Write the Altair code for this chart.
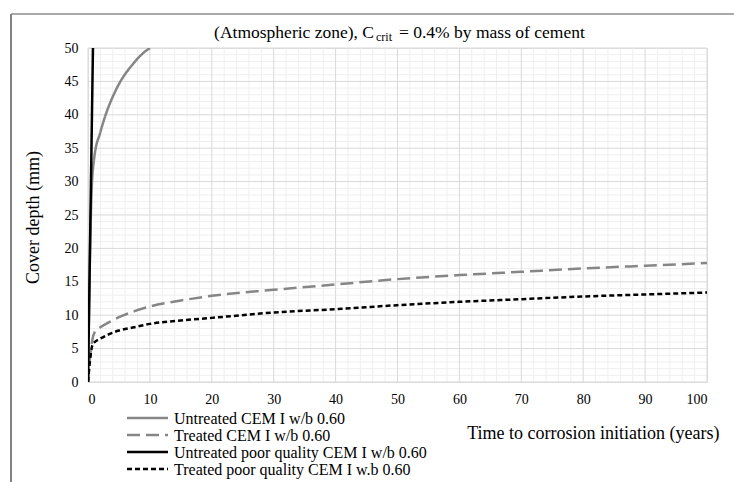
import altair as alt
import pandas as pd

# ---- data ----
series_names = [
    "Untreated CEM I w/b 0.60",
    "Treated CEM I w/b 0.60",
    "Untreated poor quality CEM I w/b 0.60",
    "Treated poor quality CEM I w.b 0.60",
]

untreated_t = [0, 0.3, 0.6, 1.0, 2, 3, 4, 5, 6, 7, 8, 9, 10]
untreated_d = [0, 18, 29, 33.5, 37.4, 40.4, 42.7, 44.6, 46.1, 47.3, 48.4, 49.3, 50]

treated_t = [0, 0.3, 0.7, 1.1, 2, 3.5, 5, 7.5, 10, 15, 20, 30, 40, 50, 60, 70, 80, 90, 100]
treated_d = [0, 3.5, 6.3, 7.5, 8.2, 9.0, 9.7, 10.6, 11.3, 12.2, 12.9, 13.8, 14.6, 15.4, 16.0, 16.5, 17.0, 17.4, 17.8]

poor_untreated_t = [0, 0.8]
poor_untreated_d = [0, 50]

poor_treated_t = [0, 0.3, 0.7, 1.0, 2, 3.5, 5, 7.5, 10, 15, 20, 30, 40, 50, 60, 70, 80, 90, 100]
poor_treated_d = [0, 3, 5.5, 5.9, 6.5, 7.2, 7.7, 8.2, 8.7, 9.2, 9.6, 10.4, 10.9, 11.5, 12.0, 12.4, 12.8, 13.1, 13.4]

x_major = list(range(0, 101, 10))
x_minor = [v for v in range(0, 101, 2) if v % 10 != 0]
y_major = list(range(0, 51, 5))
y_minor = [v for v in range(0, 51) if v % 5 != 0]

title_parts = ["(Atmospheric zone), C", "crit", "= 0.4% by mass of cement"]

# ---- build tables ----
rows = []
for name, ts, ds in zip(series_names,
                        [untreated_t, treated_t, poor_untreated_t, poor_treated_t],
                        [untreated_d, treated_d, poor_untreated_d, poor_treated_d]):
    for t, d in zip(ts, ds):
        rows.append({"t": t, "d": d, "series": name})
df = pd.DataFrame(rows)

colors = ["#868686", "#868686", "#000000", "#000000"]
dashes = [[1, 0], [13, 6], [1, 0], [5, 3]]

FONT = "Liberation Serif"
W, H = 619, 334

xscale = alt.Scale(domain=[0, 100], nice=False, zero=False)
yscale = alt.Scale(domain=[0, 50], nice=False, zero=False)

xaxis = alt.Axis(values=x_major, grid=False, domain=False, ticks=False,
                 labelFont=FONT, labelFontSize=14, labelColor="#000",
                 labelPadding=10,
                 title="Time to corrosion initiation (years)",
                 titleFont=FONT, titleFontSize=18, titleFontWeight="normal",
                 titleColor="#000", titleX=631, titleY=51,
                 titleAlign="right", titleBaseline="middle")
yaxis = alt.Axis(values=y_major, grid=False, domain=False, ticks=False,
                 labelFont=FONT, labelFontSize=14, labelColor="#000",
                 labelPadding=10,
                 title="Cover depth (mm)",
                 titleFont=FONT, titleFontSize=18, titleFontWeight="normal",
                 titleColor="#000", titleX=-55, titleY=169,
                 titleAlign="center", titleBaseline="middle", titleAngle=-90)

vminor = alt.Chart(pd.DataFrame({"v": x_minor})).mark_rule(
    color="#efefef", strokeWidth=1).encode(x=alt.X("v:Q", scale=xscale, axis=xaxis))
hminor = alt.Chart(pd.DataFrame({"v": y_minor})).mark_rule(
    color="#efefef", strokeWidth=1).encode(y=alt.Y("v:Q", scale=yscale, axis=yaxis))
vmajor = alt.Chart(pd.DataFrame({"v": x_major})).mark_rule(
    color="#d9d9d9", strokeWidth=1).encode(x=alt.X("v:Q", scale=xscale, axis=xaxis))
hmajor = alt.Chart(pd.DataFrame({"v": y_major})).mark_rule(
    color="#d9d9d9", strokeWidth=1).encode(y=alt.Y("v:Q", scale=yscale, axis=yaxis))

lines = alt.Chart(df).mark_line(clip=True, interpolate="monotone", strokeWidth=2.5).encode(
    x=alt.X("t:Q", scale=xscale, axis=xaxis),
    y=alt.Y("d:Q", scale=yscale, axis=yaxis),
    color=alt.Color("series:N", scale=alt.Scale(domain=series_names, range=colors), legend=None),
    strokeDash=alt.StrokeDash("series:N", scale=alt.Scale(domain=series_names, range=dashes), legend=None),
)

# ---- manual legend (one row per series) ----
leg_df = pd.DataFrame({"series": series_names})
legend_layers = []
for i, (name, col, dash) in enumerate(zip(series_names, colors, dashes)):
    sub = alt.Chart(leg_df).transform_filter(alt.datum.series == name)
    yy = 370 + 17 * i
    legend_layers.append(
        sub.mark_rule(color=col, strokeDash=dash, strokeWidth=2.5).encode(
            x=alt.value(39), x2=alt.value(80), y=alt.value(yy)))
    legend_layers.append(
        sub.mark_text(font=FONT, fontSize=16, align="left", baseline="middle", color="#000").encode(
            text="series:N", x=alt.value(86), y=alt.value(yy + 1)))

tdf = pd.DataFrame({"txt": title_parts})
t1 = alt.Chart(tdf).transform_filter(alt.datum.txt == title_parts[0]).mark_text(
    font=FONT, fontSize=17.5, align="right", baseline="alphabetic", color="#000"
).encode(text="txt:N", x=alt.value(286), y=alt.value(-10))
t2 = alt.Chart(tdf).transform_filter(alt.datum.txt == title_parts[1]).mark_text(
    font=FONT, fontSize=12, align="left", baseline="alphabetic", color="#000"
).encode(text="txt:N", x=alt.value(288), y=alt.value(-7))
t3 = alt.Chart(tdf).transform_filter(alt.datum.txt == title_parts[2]).mark_text(
    font=FONT, fontSize=17.5, align="left", baseline="alphabetic", color="#000"
).encode(text="txt:N", x=alt.value(311), y=alt.value(-10))

frame_left = alt.Chart(tdf).transform_filter(alt.datum.txt == title_parts[0]).mark_rule(
    color="#595959", strokeWidth=1.5).encode(x=alt.value(-77), y=alt.value(-34), y2=alt.value(440))
frame_top = alt.Chart(tdf).transform_filter(alt.datum.txt == title_parts[0]).mark_rule(
    color="#8c8c8c", strokeWidth=1.5).encode(x=alt.value(-77), x2=alt.value(650), y=alt.value(-34))

chart = alt.layer(vminor, hminor, vmajor, hmajor, lines, *legend_layers, t1, t2, t3,
                  frame_left, frame_top).properties(
    width=W, height=H,
    autosize=alt.AutoSizeParams(type="none"),
    padding={"left": 88, "top": 48, "right": 27, "bottom": 100},
).configure_view(stroke=None).configure(background="white").configure_axis(
    labelFont=FONT, titleFont=FONT)

chart.save("out.html", embed_options={"renderer": "svg", "actions": False})
